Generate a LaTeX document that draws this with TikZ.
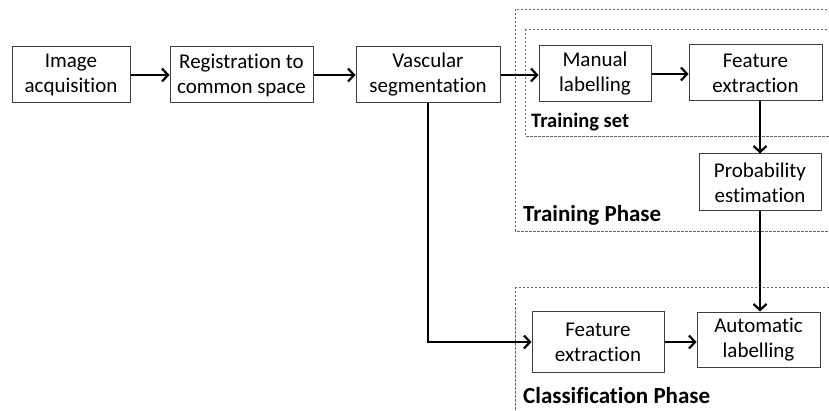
\documentclass[tikz,border=0pt]{standalone}
\usepackage{fontspec}
\setmainfont{Carlito}[Ligatures=NoCommon]
\usetikzlibrary{arrows.meta}
\begin{document}
\begin{tikzpicture}[x=1pt,y=-1pt,
  proc/.style={draw=black!75,line width=1pt,fill=white,align=center,inner sep=0pt,
    font=\fontsize{21}{25}\selectfont},
  arr/.style={line width=2.7pt,-{Straight Barb[length=6pt,width=13pt,line width=2.2pt]}},
  phase/.style={draw=black!60,line width=0.9pt,dash pattern=on 2.5pt off 1.5pt},
  lbl/.style={anchor=west,inner sep=0pt,font=\bfseries\fontsize{20.5}{24}\selectfont},
  biglbl/.style={anchor=west,inner sep=0pt,font=\bfseries\fontsize{23}{27}\selectfont}]
\useasboundingbox (0,0) rectangle (829,411);
\begin{scope}
\clip (0,0) rectangle (829,411);
\draw[phase] (515,9) rectangle (845,231);
\draw[phase] (525,29) rectangle (845,136);
\draw[phase] (515,287) rectangle (845,430);
\end{scope}
\node[proc,minimum width=118pt,minimum height=56pt] (img) at (71,75) {Image\\acquisition};
\node[proc,minimum width=143pt,minimum height=56pt] (reg) at (241.5,75) {Registration to\\common space};
\node[proc,minimum width=144pt,minimum height=56pt] (vasc) at (428,75) {Vascular\\segmentation};
\node[proc,minimum width=112pt,minimum height=56pt] (man) at (595,74) {Manual\\labelling};
\node[proc,minimum width=133pt,minimum height=56pt] (feat) at (755.5,73) {Feature\\extraction};
\node[proc,minimum width=122pt,minimum height=57pt] (prob) at (760,182.5) {Probability\\estimation};
\node[proc,minimum width=132pt,minimum height=61pt] (featc) at (598,342) {Feature\\extraction};
\node[proc,minimum width=123pt,minimum height=55pt] (auto) at (758.5,339.5) {Automatic\\labelling};
\node[lbl] (tset) at (531,122) {Training set};
\node[biglbl] (tphase) at (523,215) {Training Phase};
\node[biglbl] (cphase) at (523,396) {Classification Phase};
\draw[arr] (img.east) -- (img.east -| reg.west);
\draw[arr] (reg.east) -- (reg.east -| vasc.west);
\draw[arr] (vasc.east) -- (vasc.east -| man.west);
\draw[arr] (man.east) -- (man.east -| feat.west);
\draw[arr] (feat.south -| prob.north) -- (prob.north);
\draw[arr] (prob.south) -- (prob.south |- auto.north);
\draw[arr] (vasc.south) |- (featc.west);
\draw[arr] (featc.east) -- (featc.east -| auto.west);
\end{tikzpicture}
\end{document}
